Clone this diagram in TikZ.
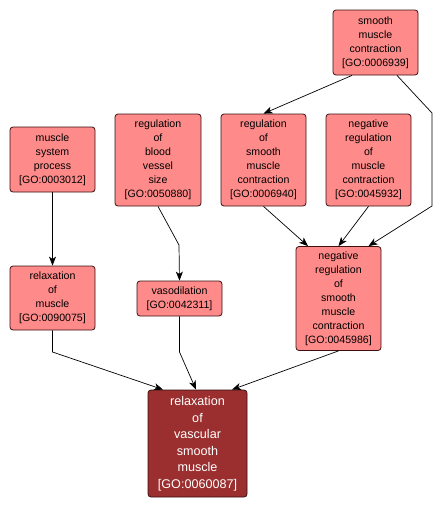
\documentclass[tikz,border=0pt]{standalone}
\usepackage{fontspec}
\setmainfont{Liberation Sans}
\usetikzlibrary{arrows.meta}
\definecolor{boxfill}{HTML}{FF8A8A}
\definecolor{boxdraw}{HTML}{3A1010}
\definecolor{mainfill}{HTML}{9B2E2E}
\tikzset{
  term/.style={draw=boxdraw, fill=boxfill, rounded corners=3pt, line width=0.8pt,
    align=center, inner sep=0pt, font=\fontsize{10.6}{14}\selectfont, text=black},
  mainterm/.style={term, fill=mainfill, text=white, font=\fontsize{12.6}{16.5}\selectfont},
  arr/.style={draw=black, line width=0.7pt, -{Stealth[length=9pt,width=7pt,inset=2.5pt]}}
}
\begin{document}
\begin{tikzpicture}[x=1pt,y=-1pt]
\useasboundingbox (0,0) rectangle (441,509);
\node[term, minimum width=85pt, minimum height=65pt] (smc) at (375.5,42.5) {smooth\\muscle\\contraction\\{[}GO:0006939{]}};
\node[term, minimum width=86pt, minimum height=92pt] (rbvs) at (158,160) {regulation\\of\\blood\\vessel\\size\\{[}GO:0050880{]}};
\node[term, minimum width=85pt, minimum height=65pt] (msp) at (52.5,159.5) {muscle\\system\\process\\{[}GO:0003012{]}};
\node[term, minimum width=85pt, minimum height=92pt] (rsmc) at (263.5,160) {regulation\\of\\smooth\\muscle\\contraction\\{[}GO:0006940{]}};
\node[term, minimum width=85pt, minimum height=92pt] (nrmc) at (368.5,160) {negative\\regulation\\of\\muscle\\contraction\\{[}GO:0045932{]}};
\node[term, minimum width=85pt, minimum height=64pt] (rom) at (52.5,298) {relaxation\\of\\muscle\\{[}GO:0090075{]}};
\node[term, minimum width=85pt, minimum height=35pt] (vaso) at (179.5,298.5) {vasodilation\\{[}GO:0042311{]}};
\node[term, minimum width=85pt, minimum height=104pt] (nrsmc) at (338.5,298.5) {negative\\regulation\\of\\smooth\\muscle\\contraction\\{[}GO:0045986{]}};
\node[mainterm, minimum width=99pt, minimum height=107pt] (rvsm) at (197.5,443.5) {relaxation\\of\\vascular\\smooth\\muscle\\{[}GO:0060087{]}};
\coordinate (c1) at (432,113);
\coordinate (c2) at (432,206);
\coordinate (c3) at (179,245);
\coordinate (c4) at (52.5,352);
\coordinate (c5) at (179.5,352);
\draw[arr] ([xshift=-23.5pt]smc.south) -- (rsmc.north);
\draw[arr] ([xshift=21.5pt]smc.south) -- (c1) -- (c2) -- ([xshift=30pt]nrsmc.north);
\draw[arr] (rsmc.south) -- ([xshift=-30.5pt]nrsmc.north);
\draw[arr] (nrmc.south) -- (nrsmc.north);
\draw[arr] (msp.south) -- (rom.north);
\draw[arr] (rbvs.south) -- (c3) -- (vaso.north);
\draw[arr] (rom.south) -- (c4) -- ([xshift=-34.5pt]rvsm.north);
\draw[arr] (vaso.south) -- (c5) -- ([xshift=-1.5pt]rvsm.north);
\draw[arr] (nrsmc.south) -- ([xshift=34.5pt]rvsm.north);
\end{tikzpicture}
\end{document}
